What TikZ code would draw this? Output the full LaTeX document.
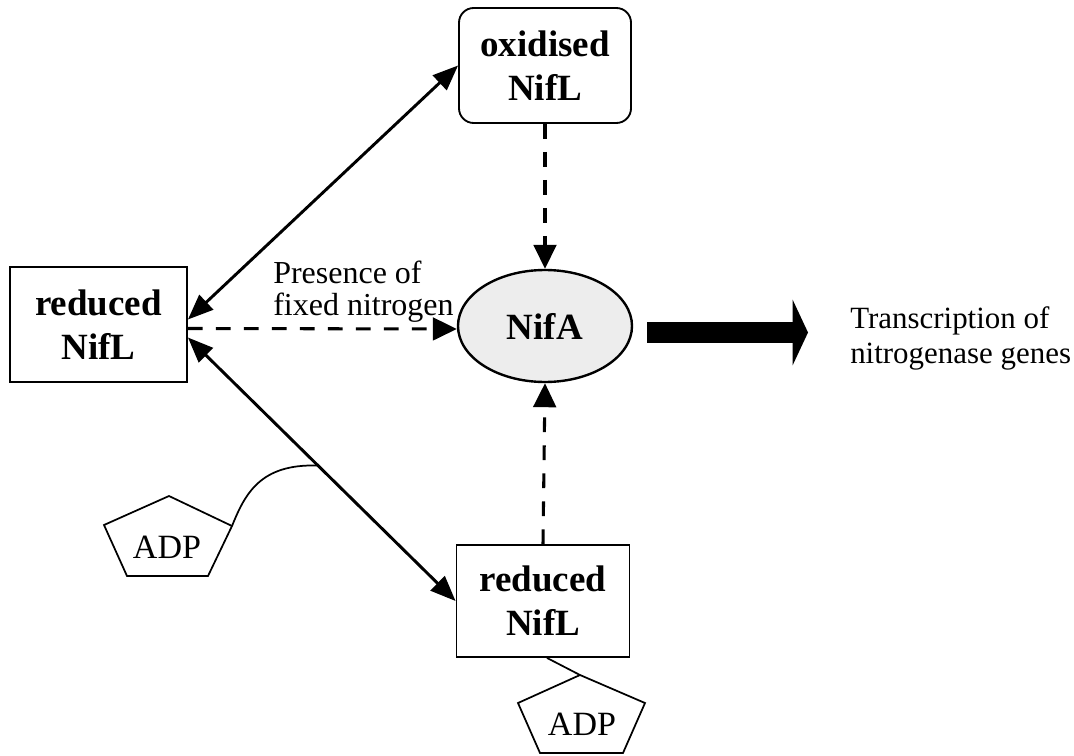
\documentclass[tikz,border=0pt]{standalone}
\usepackage{fontspec}
\setmainfont{Liberation Serif}
\usetikzlibrary{arrows.meta,calc,shapes.geometric}
\begin{document}
\begin{tikzpicture}[x=0.75pt,y=-0.75pt,
  box/.style={draw,line width=1.4pt,align=center,inner sep=0pt,
    font=\bfseries\fontsize{27.75}{33}\selectfont},
  lbl/.style={inner sep=0pt,align=left,font=\fontsize{24}{23.5}\selectfont},
  adp/.style={inner sep=0pt,font=\fontsize{25.5}{30}\selectfont},
  thinline/.style={line width=1.3pt},
  solidarr/.style={line width=2.2pt,
    {Triangle[length=19pt,width=15pt]}-{Triangle[length=19pt,width=15pt]}},
  dasharr/.style={line width=2.3pt,dash pattern=on 11pt off 10pt,
    -{Triangle[length=18pt,width=17pt]}},
  bigarr/.style={line width=15.75pt,-{Triangle[length=11.5pt,width=48.75pt]}}
]
\useasboundingbox (0,0) rectangle (1074,756);

% nodes
\node[box,rounded corners=11pt,minimum width=129pt,minimum height=86.25pt] (ox) at (545,65.5) {oxidised\\NifL};
\node[box,minimum width=132.75pt,minimum height=86.25pt] (lbox) at (98.5,324.5) {reduced\\NifL};
\node[box,minimum width=129.75pt,minimum height=84pt] (bbox) at (543,601) {reduced\\NifL};
\node[draw,ellipse,line width=1.8pt,fill=black!7,minimum width=130.5pt,minimum height=84pt,inner sep=0pt,
  font=\bfseries\fontsize{27.75}{33}\selectfont] (nifa) at (545,326) {NifA};

\node[lbl,anchor=north west] (pres) at (273,261) {Presence of\\fixed nitrogen};
\node[lbl,anchor=north west,font=\fontsize{23.2}{26.25}\selectfont] (trans) at (850,306) {Transcription of\\nitrogenase genes};

% ADP pentagons
\draw[thinline] (169,496) -- (232,526) -- (208,576) -- (127,576) -- (104,525) -- cycle;
\coordinate (adpLv) at (232,526);
\node[adp] (adpL) at (167,547) {ADP};
\draw[thinline] (580,675) -- (645,703) -- (623,753) -- (540,753) -- (518,703) -- cycle;
\coordinate (adpBv) at (580,675);
\node[adp] (adpB) at (582,724) {ADP};

% connectors
\coordinate (lU) at ($(lbox.east)+(0,-5)$);
\coordinate (lD) at ($(lbox.east)+(0,13)$);
\coordinate (lM) at ($(lbox.east)+(0,4)$);
\draw[solidarr] (lU) -- (ox.west);
\draw[solidarr] (lD) -- (bbox.west);
\draw[dasharr] (lM) -- ($(nifa.west)+(0,3)$);
\draw[dasharr] (ox.south) -- (nifa.north);
\draw[dasharr] (bbox.north) -- (nifa.south);

\coordinate (join) at ($(lD)!0.486!(bbox.west)$);
\draw[thinline] (join) .. controls ($(join)+(-58,-2)$) and ($(adpLv)+(13,-32)$) .. (adpLv);
\draw[thinline] ($(bbox.south)+(4,0)$) -- (adpBv);

\coordinate (bigS) at (647,332.5);
\coordinate (bigE) at (808,332.5);
\draw[bigarr] (bigS) -- (bigE);
\end{tikzpicture}
\end{document}
